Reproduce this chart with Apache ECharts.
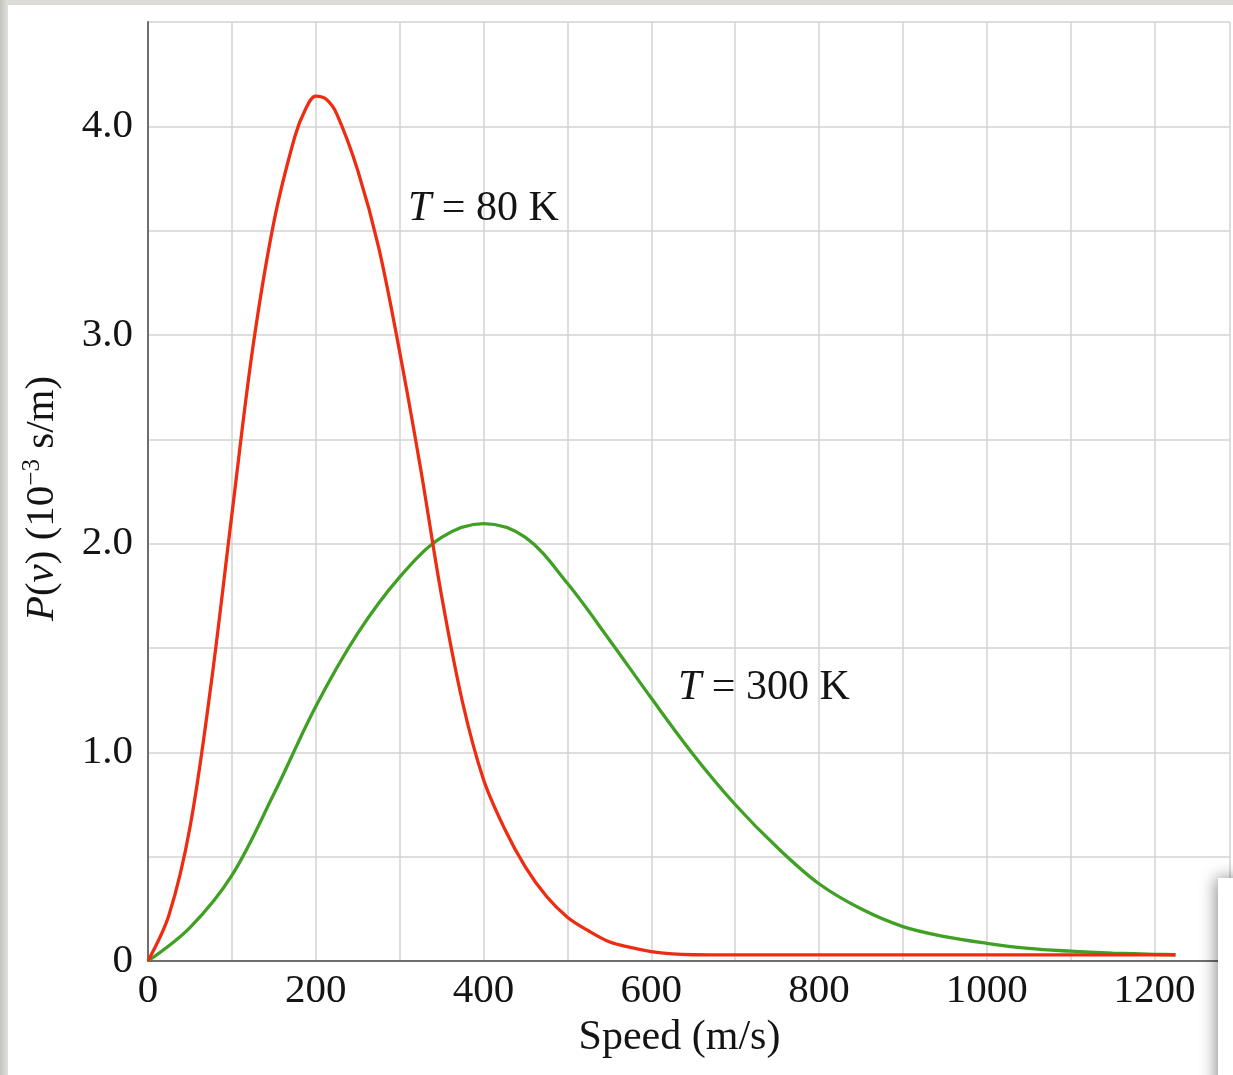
<!DOCTYPE html>
<html>
<head>
<meta charset="utf-8">
<script src="https://cdn.jsdelivr.net/npm/echarts@6/dist/echarts.min.js"></script>
<style>
html,body{margin:0;padding:0;background:#fff;}
#chart{width:1233px;height:1075px;}
</style>
</head>
<body>
<div id="chart"></div>
<script>
// Speeds (m/s) and P(v) (10^-3 s/m)
const speed80 = [0, 25, 50, 75, 100, 125, 150, 175, 187.5, 200, 212.5, 225, 250, 275, 300, 325, 350, 375, 400, 425, 450, 475, 500, 525, 550, 575, 600, 625, 650, 700, 1225];
const p80     = [0, 0.22, 0.64, 1.32, 2.14, 2.94, 3.54, 3.95, 4.08, 4.145, 4.13, 4.06, 3.79, 3.42, 2.92, 2.36, 1.75, 1.24, 0.87, 0.635, 0.45, 0.31, 0.21, 0.145, 0.092, 0.065, 0.045, 0.034, 0.03, 0.029, 0.029];

const speed300 = [0, 50, 100, 150, 200, 250, 300, 350, 400, 450, 500, 550, 600, 650, 700, 750, 800, 850, 900, 950, 1000, 1050, 1100, 1150, 1200, 1225];
const p300     = [0, 0.16, 0.41, 0.80, 1.22, 1.57, 1.84, 2.03, 2.096, 2.03, 1.81, 1.54, 1.26, 0.99, 0.75, 0.545, 0.37, 0.25, 0.165, 0.117, 0.085, 0.06, 0.047, 0.038, 0.032, 0.03];

const xTickLabels = ['0', '200', '400', '600', '800', '1000', '1200'];
const yTickLabels = ['0', '1.0', '2.0', '3.0', '4.0'];
const label80 = '{i|T} = 80 K';
const label300 = '{i|T} = 300 K';
const xName = 'Speed (m/s)';
const yName = '{i|P}({i|v}) (10{sup|\u22123} s/m)';

const SERIF = 'Liberation Serif';
const TXT = '#141414';

const chart = echarts.init(document.getElementById('chart'), null, {renderer: 'canvas'});

const option = {
  animation: false,
  backgroundColor: '#ffffff',
  grid: {left: 148, right: 0, top: 22, bottom: 114, containLabel: false},
  xAxis: {
    type: 'value', min: 0, max: 1290, interval: 100,
    axisLine: {show: true, onZero: false, lineStyle: {color: '#6e6e6e', width: 2}},
    axisTick: {show: false},
    splitLine: {show: true, lineStyle: {color: '#d3d3d3', width: 1.5}},
    axisLabel: {
      fontFamily: SERIF, fontSize: 41, color: TXT, margin: 10,
      formatter: v => { const s = String(Math.round(v)); return xTickLabels.includes(s) ? s : ''; }
    },
    name: xName, nameLocation: 'middle', nameGap: 56,
    nameTextStyle: {fontFamily: SERIF, fontSize: 42, color: TXT, padding: [0, 19, 0, 0]}
  },
  yAxis: {
    type: 'value', min: 0, max: 4.5, interval: 0.5,
    axisLine: {show: true, onZero: false, lineStyle: {color: '#6e6e6e', width: 2}},
    axisTick: {show: false},
    splitLine: {show: true, lineStyle: {color: '#d3d3d3', width: 1.5}},
    axisLabel: {
      fontFamily: SERIF, fontSize: 41, color: TXT, margin: 15,
      formatter: v => { const s = v === 0 ? '0' : v.toFixed(1); return yTickLabels.includes(s) ? s : ''; }
    },
    name: yName, nameLocation: 'middle', nameGap: 83, nameRotate: 90,
    nameTextStyle: {
      fontFamily: SERIF, fontSize: 41, color: TXT, padding: [0, 14, 0, 0],
      rich: {
        i: {fontFamily: SERIF, fontSize: 41, fontStyle: 'italic', color: TXT},
        sup: {fontFamily: SERIF, fontSize: 25, color: TXT, verticalAlign: 'top', padding: [0, 0, 20, 0]}
      }
    }
  },
  series: [
    {
      name: 'T = 300 K', type: 'line', showSymbol: false, smooth: 0.35,
      lineStyle: {color: '#3fa024', width: 3.3}, z: 3,
      data: speed300.map((v, i) => [v, p300[i]])
    },
    {
      name: 'T = 80 K', type: 'line', showSymbol: false, smooth: 0.35,
      lineStyle: {color: '#ee2c12', width: 3.3}, z: 4,
      data: speed80.map((v, i) => [v, p80[i]])
    }
  ],
  graphic: [
    {type: 'text', x: 408, y: 209, z: 50,
      style: {text: label80, fontFamily: SERIF, fontSize: 42, fill: TXT, textAlign: 'left', textVerticalAlign: 'middle', align: 'left', verticalAlign: 'middle',
        rich: {i: {fontFamily: SERIF, fontSize: 42, fontStyle: 'italic', fill: TXT}}}},
    {type: 'text', x: 678, y: 688, z: 50,
      style: {text: label300, fontFamily: SERIF, fontSize: 42, fill: TXT, textAlign: 'left', textVerticalAlign: 'middle', align: 'left', verticalAlign: 'middle',
        rich: {i: {fontFamily: SERIF, fontSize: 42, fontStyle: 'italic', fill: TXT}}}},
    // photo frame decorations
    {type: 'rect', z: 100, shape: {x: 0, y: 0, width: 1233, height: 5},
      style: {fill: '#dddcd7'}},
    {type: 'rect', z: 100, shape: {x: 0, y: 0, width: 8, height: 1075},
      style: {fill: {type: 'linear', x: 0, y: 0, x2: 1, y2: 0, colorStops: [{offset: 0, color: '#c4c4bf'}, {offset: 1, color: '#dededa'}]}}},
    {type: 'rect', z: 100, shape: {x: 1218, y: 878, width: 40, height: 220},
      style: {fill: '#ffffff', shadowBlur: 16, shadowColor: 'rgba(0,0,0,0.45)', shadowOffsetX: -2, shadowOffsetY: 0}}
  ]
};
chart.setOption(option);
</script>
</body>
</html>
